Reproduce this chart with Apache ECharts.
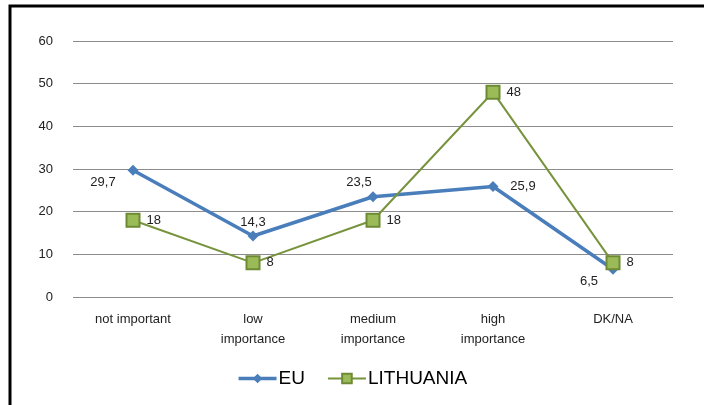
<!DOCTYPE html>
<html><head><meta charset="utf-8">
<script src="https://cdn.jsdelivr.net/npm/echarts@6/dist/echarts.min.js"></script>
<style>html,body{margin:0;padding:0;background:#fff}#c{width:704px;height:405px}</style>
</head><body><div id="c"></div>
<script>
const categories = ['not important', 'low\nimportance', 'medium\nimportance', 'high\nimportance', 'DK/NA'];
const euValues = [29.7, 14.3, 23.5, 25.9, 6.5];
const ltValues = [18, 8, 18, 48, 8];
const yTicks = [0, 10, 20, 30, 40, 50, 60];

const euLabelPos = [[-30, 12], [0, -14], [-14, -14], [30, 0], [-24, 12]];
const fmt = v => String(v).replace('.', ',');

const chart = echarts.init(document.getElementById('c'));
chart.setOption({
  animation: false,
  textStyle: { fontFamily: 'Liberation Sans, Arial, sans-serif' },
  graphic: [{
    type: 'rect', shape: { x: 10, y: 6, width: 720, height: 420 },
    style: { fill: 'none', stroke: '#000', lineWidth: 3 }, z: 10
  }],
  grid: { left: 73, right: 31, top: 41, bottom: 108 },
  legend: {
    bottom: 12, left: 'center', itemGap: 22, itemWidth: 38, itemHeight: 12,
    textStyle: { fontSize: 19, color: '#000', padding: [0, 0, 0, -3], fontFamily: 'Liberation Sans, Arial, sans-serif' },
    data: [
      { name: 'EU', lineStyle: { width: 3.5 } },
      { name: 'LITHUANIA', lineStyle: { width: 2 } }
    ]
  },
  xAxis: {
    type: 'category', data: categories, boundaryGap: true,
    axisLine: { show: false }, axisTick: { show: false },
    axisLabel: { color: '#222', fontSize: 13, lineHeight: 20, margin: 12 }
  },
  yAxis: {
    type: 'value', min: yTicks[0], max: yTicks[yTicks.length - 1], interval: 10,
    axisLine: { show: false }, axisTick: { show: false },
    axisLabel: { color: '#222', fontSize: 13, margin: 20 },
    splitLine: { lineStyle: { color: '#8c8c8c', width: 1 } }
  },
  series: [
    {
      name: 'EU', type: 'line', data: euValues.map((v, i) => ({
        value: v,
        label: { offset: euLabelPos[i] }
      })),
      symbol: 'diamond', symbolSize: 11,
      lineStyle: { color: '#4a7ebb', width: 3.5 },
      itemStyle: { color: '#4a7ebb' },
      label: { show: true, position: 'inside', formatter: p => fmt(p.value), color: '#222', fontSize: 13 },
      z: 2
    },
    {
      name: 'LITHUANIA', type: 'line', data: ltValues,
      symbol: 'rect', symbolSize: 13,
      lineStyle: { color: '#77933c', width: 2 },
      itemStyle: { color: '#9bbb59', borderColor: '#6f8a35', borderWidth: 2 },
      label: { show: true, position: 'right', distance: 6, formatter: p => fmt(p.value), color: '#222', fontSize: 13 },
      z: 3
    }
  ]
});
</script></body></html>
